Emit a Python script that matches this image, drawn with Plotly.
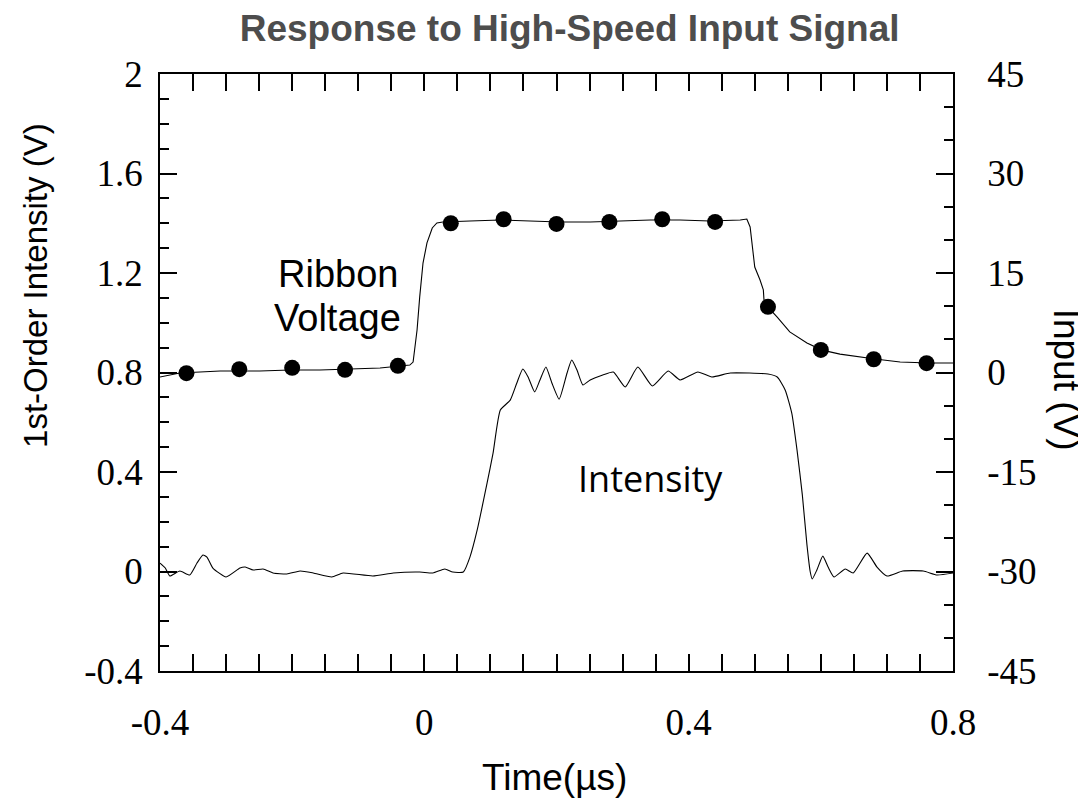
import plotly.graph_objects as go

# ---- data ----
ribbon_t = [-0.400, -0.370, -0.309, -0.249, -0.203, -0.158, -0.112, -0.067, -0.037, -0.022,
            -0.017, -0.011, -0.007, -0.002, 0.004, 0.012, 0.019, 0.028,
            0.069, 0.115, 0.160, 0.205, 0.251, 0.296, 0.342, 0.387, 0.432, 0.478, 0.488,
            0.493, 0.497, 0.500, 0.508, 0.513, 0.514, 0.520, 0.534, 0.553, 0.579, 0.602,
            0.629, 0.659, 0.682, 0.720, 0.764, 0.800]
ribbon_v = [0.782, 0.798, 0.806, 0.806, 0.810, 0.810, 0.814, 0.818, 0.826, 0.830,
            0.842, 0.971, 1.104, 1.240, 1.321, 1.381, 1.401, 1.405,
            1.409, 1.413, 1.409, 1.405, 1.405, 1.409, 1.413, 1.413, 1.409, 1.413, 1.417,
            1.385, 1.292, 1.224, 1.172, 1.132, 1.091, 1.063, 1.023, 0.963, 0.919, 0.890,
            0.874, 0.862, 0.854, 0.842, 0.838, 0.838]

intensity_t = [-0.400, -0.392, -0.385, -0.370, -0.355, -0.344, -0.335, -0.329, -0.320, -0.300,
               -0.279, -0.271, -0.259, -0.244, -0.229, -0.208, -0.188, -0.168, -0.140, -0.123,
               -0.078, -0.047, -0.007, 0.013, 0.031, 0.043, 0.059, 0.069, 0.080, 0.095,
               0.104, 0.115, 0.130, 0.140, 0.149, 0.157, 0.167, 0.175, 0.184, 0.193,
               0.204, 0.216, 0.223, 0.231, 0.240, 0.251, 0.270, 0.286, 0.304, 0.323,
               0.345, 0.369, 0.387, 0.414, 0.435, 0.463, 0.520, 0.534, 0.546, 0.556,
               0.564, 0.572, 0.579, 0.584, 0.587, 0.594, 0.603, 0.611, 0.620, 0.637,
               0.649, 0.670, 0.685, 0.700, 0.724, 0.755, 0.776, 0.800]
intensity_v = [0.034, 0.014, -0.018, 0.002, -0.014, 0.034, 0.066, 0.058, 0.014, -0.022,
               0.014, 0.018, 0.006, 0.010, -0.006, -0.010, 0.002, -0.006, -0.022, -0.006,
               -0.018, -0.006, -0.002, -0.006, 0.010, -0.002, -0.002, 0.058, 0.167, 0.356,
               0.476, 0.649, 0.689, 0.758, 0.814, 0.782, 0.722, 0.770, 0.822, 0.758,
               0.693, 0.798, 0.850, 0.810, 0.750, 0.770, 0.790, 0.802, 0.742, 0.822,
               0.746, 0.806, 0.770, 0.802, 0.782, 0.798, 0.794, 0.782, 0.730, 0.637,
               0.488, 0.308, 0.107, -0.002, -0.030, 0.006, 0.062, 0.018, -0.022, 0.010,
               -0.006, 0.074, 0.018, -0.018, 0.002, 0.002, -0.014, -0.006]

input_t = [-0.36, -0.28, -0.20, -0.12, -0.04, 0.04, 0.12, 0.20, 0.28, 0.36, 0.44, 0.52, 0.60, 0.68, 0.76]
input_v = [-0.1, 0.5, 0.7, 0.4, 1.0, 22.5, 23.1, 22.4, 22.7, 23.1, 22.7, 9.9, 3.4, 2.0, 1.4]

x_ticks = [-0.4, 0, 0.4, 0.8]
x_labels = ["-0.4", "0", "0.4", "0.8"]
y_ticks = [-0.4, 0, 0.4, 0.8, 1.2, 1.6, 2]
y_labels = ["-0.4", "0", "0.4", "0.8", "1.2", "1.6", "2"]
y2_ticks = [-45, -30, -15, 0, 15, 30, 45]
y2_labels = ["-45", "-30", "-15", "0", "15", "30", "45"]

SERIF = "Liberation Serif, Times New Roman, serif"
SANS = "Liberation Sans, Arial, sans-serif"
TICKFONT = dict(family=SERIF, size=37, color="black")

fig = go.Figure()
fig.add_trace(go.Scatter(x=ribbon_t, y=ribbon_v, mode="lines", name="Ribbon Voltage",
                         line=dict(color="black", width=1.1), showlegend=False))
fig.add_trace(go.Scatter(x=intensity_t, y=intensity_v, mode="lines", name="Intensity",
                         line=dict(color="black", width=1.1, shape="spline", smoothing=0.5),
                         showlegend=False))
fig.add_trace(go.Scatter(x=input_t, y=input_v, mode="markers", name="Input", yaxis="y2",
                         marker=dict(color="black", size=16), showlegend=False))

axis_common = dict(ticks="inside", ticklen=17, tickwidth=1.5, tickcolor="black",
                   showline=True, linecolor="black", linewidth=1.5,
                   showgrid=False, zeroline=False, tickfont=TICKFONT)

fig.update_layout(
    width=1078, height=795,
    margin=dict(l=152, r=133, t=66, b=132),
    paper_bgcolor="white", plot_bgcolor="white",
    title=dict(text="<b>Response to High-Speed Input Signal</b>", x=0.521, xanchor="center",
               yref="container", y=0.9745, yanchor="middle",
               font=dict(family=SANS, size=37, color="#4d4d4d")),
    xaxis=dict(range=[-0.4, 0.8], tickvals=x_ticks, ticktext=x_labels, mirror="allticks",
               minor=dict(dtick=0.05, ticks="inside", ticklen=9, tickwidth=1.5, tickcolor="black"),
               ticklabelstandoff=18, **axis_common),
    yaxis=dict(range=[-0.4, 2.0], tickvals=y_ticks, ticktext=y_labels,
               minor=dict(dtick=0.1, tick0=0, ticks="inside", ticklen=9, tickwidth=1.5, tickcolor="black"),
               ticklabelstandoff=8, **axis_common),
    yaxis2=dict(range=[-45, 45], tickvals=y2_ticks, ticktext=y2_labels, overlaying="y", side="right",
                minor=dict(dtick=5, tick0=0, ticks="inside", ticklen=9, tickwidth=1.5, tickcolor="black"),
                ticklabelstandoff=25, **axis_common),
    annotations=[
        dict(text="1st-Order Intensity (V)", textangle=-90, xref="paper", yref="paper", x=0, y=0.645,
             xanchor="center", yanchor="middle", xshift=-124, showarrow=False,
             font=dict(family=SANS, size=33, color="black")),
        dict(text="Input (V)", textangle=90, xref="paper", yref="paper", x=1, y=0.488,
             xanchor="center", yanchor="middle", xshift=113, showarrow=False,
             font=dict(family=SANS, size=37, color="black")),
        dict(text="Time(µs)", xref="paper", yref="paper", x=0.498, y=0, yshift=-106,
             xanchor="center", yanchor="middle", showarrow=False,
             font=dict(family=SANS, size=37, color="black")),
        dict(text="Ribbon", xref="x", yref="y", x=-0.131, y=1.195, showarrow=False,
             font=dict(family=SANS, size=38, color="black")),
        dict(text="Voltage", xref="x", yref="y", x=-0.131, y=1.020, showarrow=False,
             font=dict(family=SANS, size=38, color="black")),
        dict(text="Intensity", xref="x", yref="y", x=0.342, y=0.372, showarrow=False,
             font=dict(family="Open Sans, " + SANS, size=36, color="black")),
    ],
)

fig.write_html("out.html")
